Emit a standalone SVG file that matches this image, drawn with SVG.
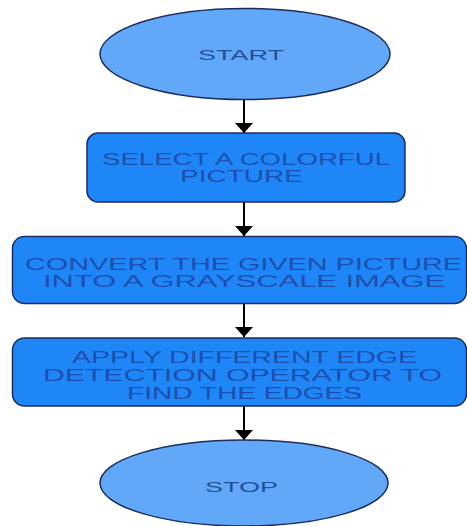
<svg xmlns="http://www.w3.org/2000/svg" width="467" height="526" viewBox="0 0 467 526">
<style>
.term{fill:#62a8f8;stroke:#1c2c5e;stroke-width:1.5}
.proc{fill:#1f86f8;stroke:#1c2c5e;stroke-width:1.5}
.t{font-family:"Liberation Sans",Arial,sans-serif;font-size:16px;text-anchor:middle}
.tt{fill:#24509a;font-size:15px}
.pt{fill:#1c4fae}
.conn{stroke:#000;stroke-width:2;fill:none}
</style>
<defs>
<marker id="ah" markerUnits="userSpaceOnUse" markerWidth="10" markerHeight="18" viewBox="0 0 10 18" refX="10" refY="9" orient="auto">
<path d="M0,0 L10,9 L0,18 z" fill="#000"/>
</marker>
</defs>
<rect width="467" height="526" fill="#fff"/>
<g id="connectors">
<line class="conn" x1="244" y1="99" x2="244" y2="133" marker-end="url(#ah)"/>
<line class="conn" x1="244" y1="202" x2="244" y2="236" marker-end="url(#ah)"/>
<line class="conn" x1="244" y1="304" x2="244" y2="337" marker-end="url(#ah)"/>
<line class="conn" x1="244" y1="406" x2="244" y2="440" marker-end="url(#ah)"/>
</g>
<g id="start">
<ellipse class="term" cx="245" cy="54" rx="145" ry="45.5"/>
<text class="t tt" x="241" y="60" textLength="86" lengthAdjust="spacingAndGlyphs">START</text>
</g>
<g id="select">
<rect class="proc" x="87" y="133" width="318" height="69" rx="11"/>
<text class="t pt" x="246" y="165" textLength="288" lengthAdjust="spacingAndGlyphs">SELECT A COLORFUL</text>
<text class="t pt" x="241.5" y="182" textLength="123" lengthAdjust="spacingAndGlyphs">PICTURE</text>
</g>
<g id="convert">
<rect class="proc" x="12.5" y="236.5" width="454" height="67" rx="12"/>
<text class="t pt" x="243.5" y="270" textLength="437" lengthAdjust="spacingAndGlyphs">CONVERT THE GIVEN PICTURE</text>
<text class="t pt" x="244" y="287" textLength="402" lengthAdjust="spacingAndGlyphs">INTO A GRAYSCALE IMAGE</text>
</g>
<g id="apply">
<rect class="proc" x="12.5" y="338" width="454" height="68" rx="12"/>
<text class="t pt" x="244.5" y="363" textLength="345" lengthAdjust="spacingAndGlyphs">APPLY DIFFERENT EDGE</text>
<text class="t pt" x="242.5" y="381" textLength="399" lengthAdjust="spacingAndGlyphs">DETECTION OPERATOR TO</text>
<text class="t pt" x="244.5" y="399" textLength="235" lengthAdjust="spacingAndGlyphs">FIND THE EDGES</text>
</g>
<g id="stop">
<ellipse class="term" cx="244" cy="483" rx="144" ry="43"/>
<text class="t tt" x="241.5" y="492" textLength="73" lengthAdjust="spacingAndGlyphs">STOP</text>
</g>
</svg>
